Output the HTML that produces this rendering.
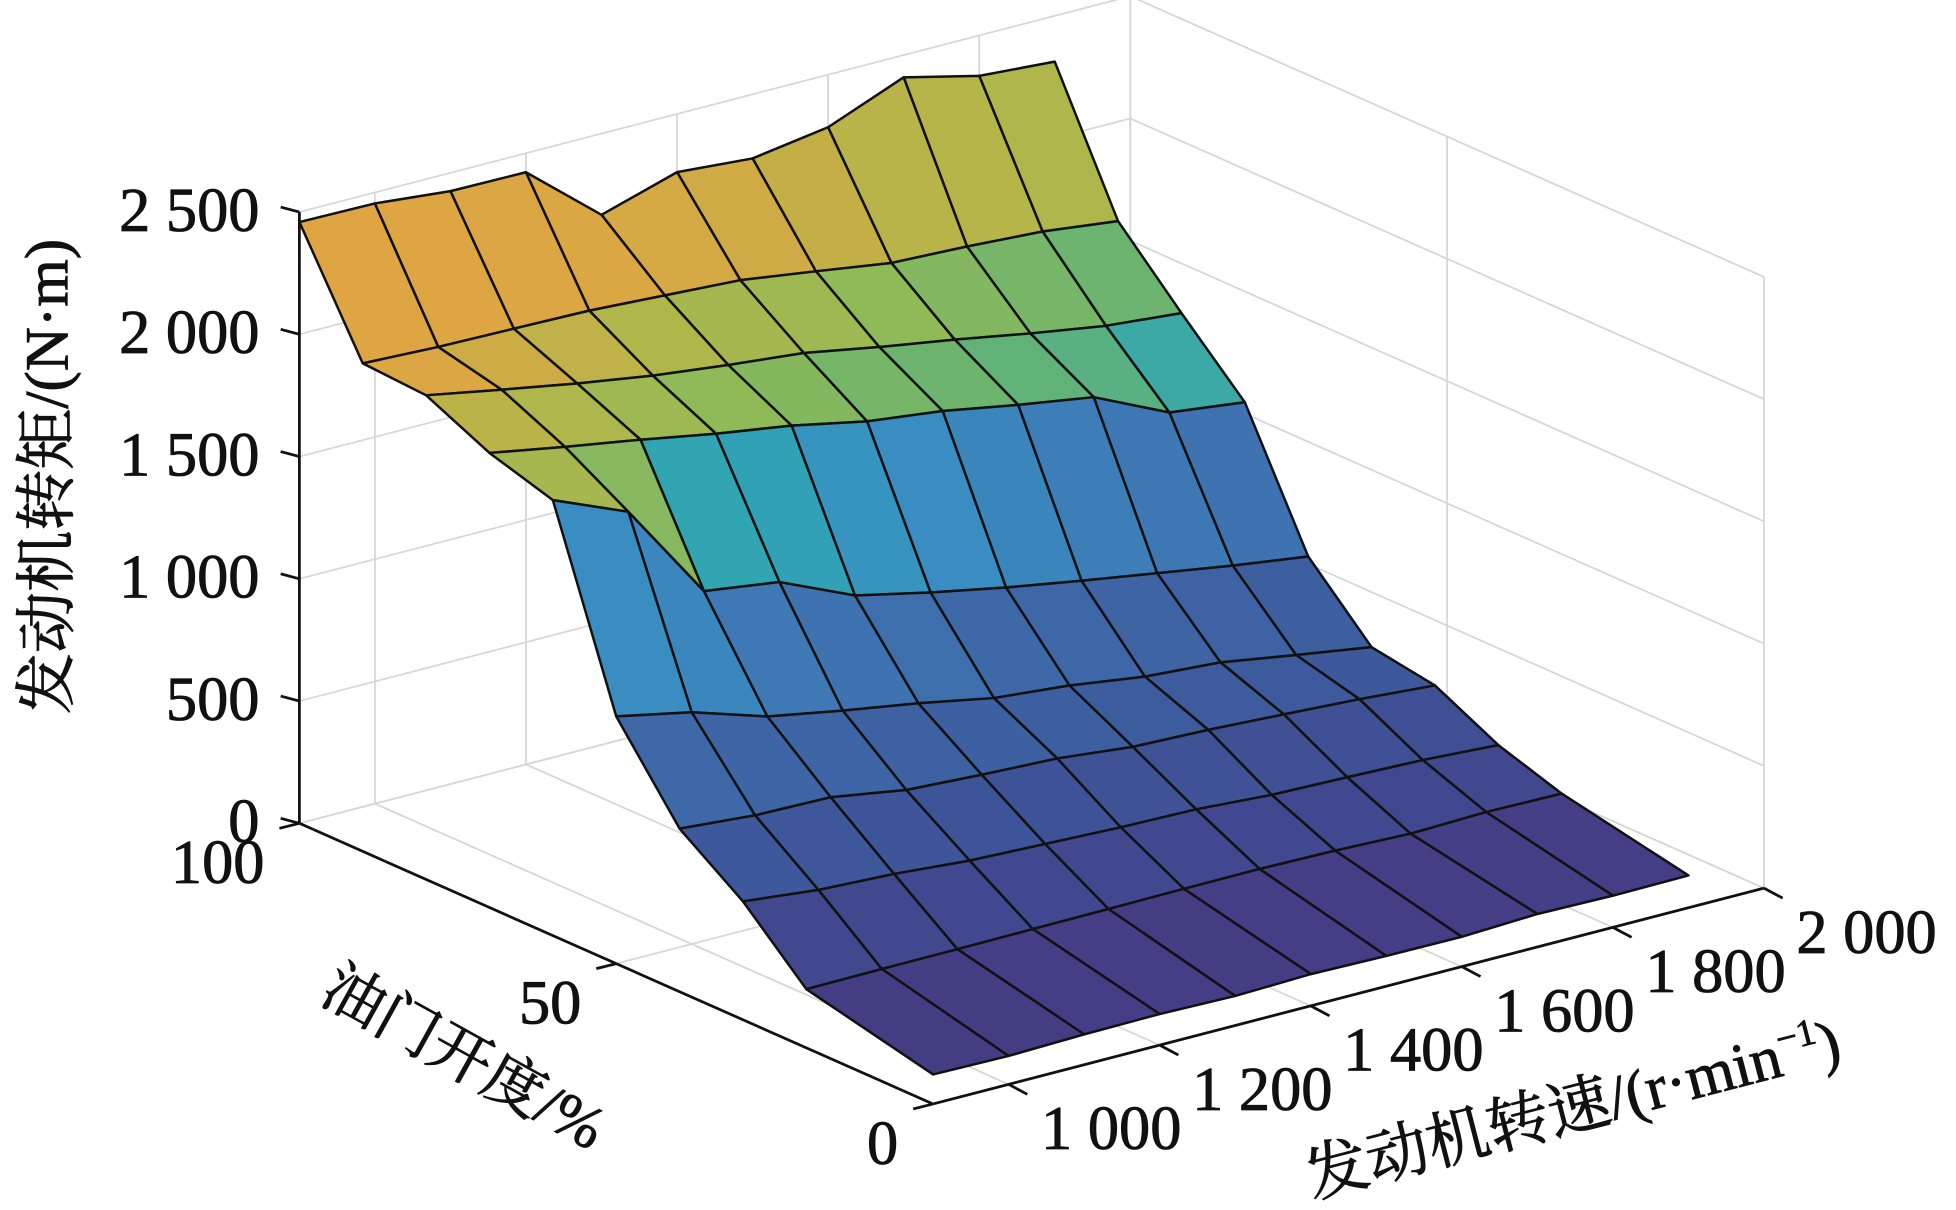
<!DOCTYPE html>
<html><head><meta charset="utf-8"><title>发动机转矩 MAP</title>
<style>
html,body{margin:0;padding:0;background:#fff;}
svg{display:block;}
text{font-family:"Liberation Serif","Noto Serif CJK SC",serif;fill:#111;stroke:#111;stroke-width:0.7;}
</style></head>
<body>
<svg id="chart" xmlns="http://www.w3.org/2000/svg" width="1956" height="1210" viewBox="0 0 1568 970" preserveAspectRatio="none">
<g id="grid"></g>
<g id="surface"></g>
<g id="axes"></g>
<g id="labels"></g>
<text transform="translate(54,382) rotate(-90)" text-anchor="middle" font-size="49">发动机转矩/(N·m)</text>
<text transform="translate(364,862) rotate(29)" text-anchor="middle" font-size="49">油门开度/%</text>
<text transform="translate(1265,905) rotate(-14.5)" text-anchor="middle" font-size="50">发动机转速/(r·min<tspan font-size="30" dy="-19">−1</tspan><tspan dy="19">)</tspan></text>
</svg>
<script>
// ---- data ----
const speeds = [900,1000,1100,1200,1300,1400,1500,1600,1700,1800,1900];
const throttles = [0,20,30,40,50,60,70,80,90,100];
const torqueT0   = [121,116,124,127,121,130,124,122,135,130,132];
const torqueT20  = [240,242,243,245,247,249,250,245,234,242,237];
const torqueT30  = [484,451,436,410,398,386,379,358,350,340,321];
const torqueT40  = [667,641,635,584,566,553,520,509,492,474,450];
const torqueT50  = [1011,948,850,794,744,685,656,612,590,540,492];
const torqueT60  = [1781,1653,1248,1205,1070,1002,942,889,840,791,748];
const torqueT70  = [1859,1804,1753,1697,1650,1587,1549,1494,1445,1302,1264];
const torqueT80  = [1980,1923,1868,1820,1783,1752,1696,1646,1591,1542,1514];
const torqueT90  = [1996,1983,1977,1971,1953,1935,1891,1845,1832,1813,1775];
const torqueT100 = [2459,2455,2425,2422,2168,2262,2238,2285,2409,2335,2313];
const torque = [torqueT0,torqueT20,torqueT30,torqueT40,torqueT50,torqueT60,torqueT70,torqueT80,torqueT90,torqueT100];
const zTicks = [0,500,1000,1500,2000,2500];
const zTickLabels = ["0","500","1 000","1 500","2 000","2 500"];
const throttleTicks = [0,50,100];
const throttleTickLabels = ["0","50","100"];
const speedTicks = [1000,1200,1400,1600,1800,2000];
const speedTickLabels = ["1 000","1 200","1 400","1 600","1 800","2 000"];

// ---- projection ----
const SP0=900, SP1=2000, T0=0, T1=100, Z0=0, Z1=2500;
function px(sp,t){return 748+(sp-SP0)*0.6055-t*5.08;}
function py(sp,t,z){return 885-(sp-SP0)*0.1573-t*2.25-z*0.196;}
const NS="http://www.w3.org/2000/svg";
function mk(tag,attrs,parent){const e=document.createElementNS(NS,tag);for(const k in attrs)e.setAttribute(k,attrs[k]);parent.appendChild(e);return e;}

// colormap
const stops=[[0,"#433d84"],[0.05,"#41478e"],[0.16,"#3d5a9c"],[0.29,"#3f72b0"],[0.376,"#3a8cc2"],[0.48,"#30a6b4"],[0.59,"#62b276"],[0.675,"#8fba58"],[0.73,"#b3b64a"],[0.8,"#dfa542"],[0.9,"#e6b840"],[1,"#f0e030"]];
function hex(h){return [parseInt(h.substr(1,2),16),parseInt(h.substr(3,2),16),parseInt(h.substr(5,2),16)];}
let cmin=Infinity,cmax=-Infinity;
torque.forEach(r=>r.forEach(v=>{cmin=Math.min(cmin,v);cmax=Math.max(cmax,v);}));
function cmap(v){let f=(v-cmin)/(cmax-cmin);f=Math.max(0,Math.min(1,f));
 for(let i=1;i<stops.length;i++){if(f<=stops[i][0]){const a=stops[i-1],b=stops[i];const u=(f-a[0])/(b[0]-a[0]);const ca=hex(a[1]),cb=hex(b[1]);
 return "rgb("+ca.map((c,k)=>Math.round(c+(cb[k]-c)*u)).join(",")+")";}}return stops[stops.length-1][1];}

// ---- grid & box ----
const grid=document.getElementById('grid');
const gs={stroke:"#d6d6d6","stroke-width":1.4,fill:"none"};
function gline(a,b,name){const l=mk('line',Object.assign({x1:a[0],y1:a[1],x2:b[0],y2:b[1]},gs),grid);

}
zTicks.forEach(z=>{
 gline([px(SP0,T1),py(SP0,T1,z)],[px(SP1,T1),py(SP1,T1,z)],'z-gridline-back');
 gline([px(SP1,T1),py(SP1,T1,z)],[px(SP1,T0),py(SP1,T0,z)],'z-gridline-side');
});
speedTicks.forEach(s=>{
 gline([px(s,T1),py(s,T1,Z0)],[px(s,T1),py(s,T1,Z1)],'speed-gridline-wall');
 gline([px(s,T0),py(s,T0,Z0)],[px(s,T1),py(s,T1,Z0)],'speed-gridline-floor');
});
throttleTicks.forEach(t=>{
 gline([px(SP1,t),py(SP1,t,Z0)],[px(SP1,t),py(SP1,t,Z1)],'throttle-gridline-wall');
 gline([px(SP0,t),py(SP0,t,Z0)],[px(SP1,t),py(SP1,t,Z0)],'throttle-gridline-floor');
});

// ---- surface ----
const surf=document.getElementById('surface');
const faces=[];
for(let i=0;i<throttles.length-1;i++){for(let j=0;j<speeds.length-1;j++){
 const pts=[[i,j],[i,j+1],[i+1,j+1],[i+1,j]].map(([a,b])=>[px(speeds[b],throttles[a]),py(speeds[b],throttles[a],torque[a][b])]);
 const depth=py((speeds[j]+speeds[j+1])/2,(throttles[i]+throttles[i+1])/2,0);
 faces.push({pts,depth,c:cmap(torque[i][j]),i,j});
}}
faces.sort((a,b)=>a.depth-b.depth);
faces.forEach(f=>{
 const p=mk('polygon',{points:f.pts.map(q=>q[0].toFixed(1)+","+q[1].toFixed(1)).join(" "),fill:f.c,stroke:"#111","stroke-width":2.0,"stroke-linejoin":"round"},surf);
 
 
});

// ---- axes ----
const axes=document.getElementById('axes');
const as={stroke:"#111","stroke-width":2.2,fill:"none"};
function aline(a,b,name){const l=mk('line',Object.assign({x1:a[0],y1:a[1],x2:b[0],y2:b[1]},as),axes);

}
aline([px(SP0,T1),py(SP0,T1,Z0)],[px(SP0,T1),py(SP0,T1,Z1)],'z-axis-line');
aline([px(SP0,T1),py(SP0,T1,Z0)],[px(SP0,T0),py(SP0,T0,Z0)],'throttle-axis-line');
aline([px(SP0,T0),py(SP0,T0,Z0)],[px(SP1,T0),py(SP1,T0,Z0)],'speed-axis-line');
const labels=document.getElementById('labels');
function tlabel(x,y,s,anchor,name){const t=mk('text',{x:x,y:y,"text-anchor":anchor,"font-size":50},labels);t.textContent=s;

}
zTicks.forEach((z,k)=>{const x=px(SP0,T1),y=py(SP0,T1,z);
 aline([x,y],[x-15,y-4],'z-tick');
 tlabel(x-32,y+15,zTickLabels[k],'end','z-tick-label');});
throttleTicks.forEach((t,k)=>{const x=px(SP0,t),y=py(SP0,t,0);
 aline([x,y],[x-16,y+4],'throttle-tick');
 tlabel(x-28,y+48,throttleTickLabels[k],'end','throttle-tick-label');});
speedTicks.forEach((s,k)=>{const x=px(s,T0),y=py(s,T0,0);
 aline([x,y],[x+15,y+8],'speed-tick');
 tlabel(x+26,y+52,speedTickLabels[k],'start','speed-tick-label');});
</script>
</body></html>
